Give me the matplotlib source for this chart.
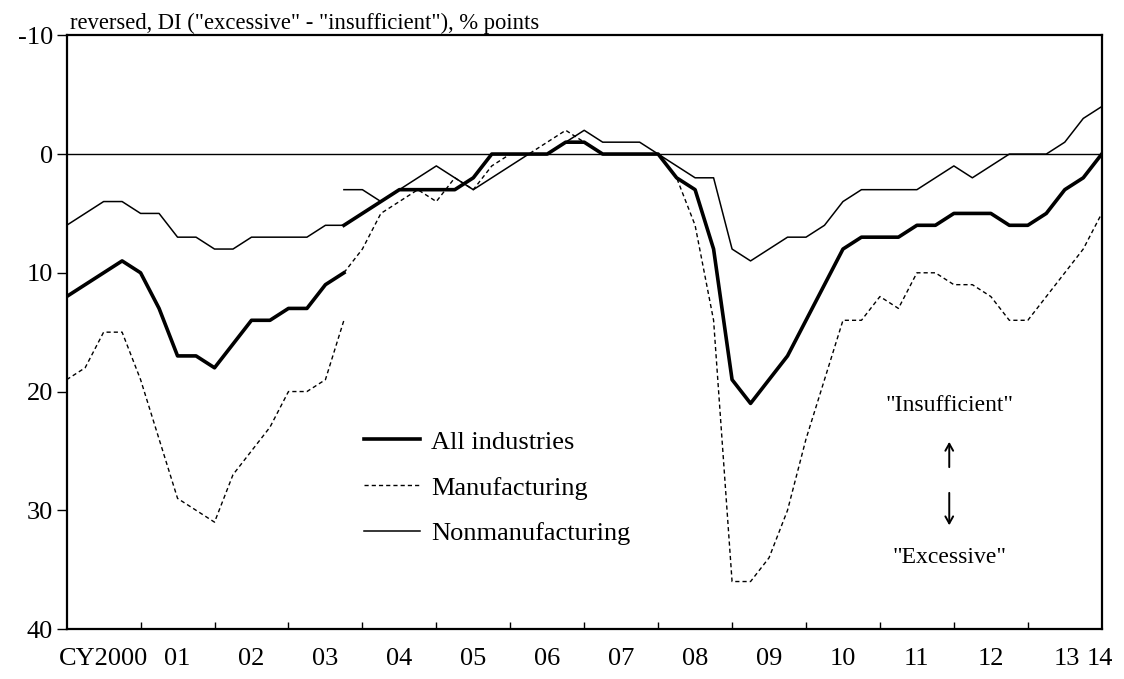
import numpy as np
import matplotlib
matplotlib.use("Agg")
import matplotlib.pyplot as plt

plt.rcParams['font.family'] = ['Liberation Serif', 'DejaVu Serif']
plt.rcParams['axes.unicode_minus'] = False

# quarterly, 2000Q1 .. 2014Q1 (index 0..56); series break at 2003Q4 (index 15)
# old basis: 2000Q1 - 2003Q4
all_old = [12, 11, 10, 9, 10, 13, 17, 17, 18, 16, 14, 14, 13, 13, 11, 10]
manu_old = [19, 18, 15, 15, 19, 24, 29, 30, 31, 27, 25, 23, 20, 20, 19, 14]
nonmanu_old = [6, 5, 4, 4, 5, 5, 7, 7, 8, 8, 7, 7, 7, 7, 6, 6]

# new basis: 2003Q4 - 2014Q1
all_new = [6, 5, 4, 3, 3, 3, 3, 2, 0, 0, 0, 0, -1, -1, 0, 0, 0, 0, 2, 3, 8,
           19, 21, 19, 17, 14, 11, 8, 7, 7, 7, 6, 6, 5, 5, 5, 6, 6, 5, 3, 2, 0]
manu_new = [10, 8, 5, 4, 3, 4, 2, 3, 1, 0, 0, -1, -2, -1, 0, 0, 0, 0, 2, 6, 14,
            36, 36, 34, 30, 24, 19, 14, 14, 12, 13, 10, 10, 11, 11, 12, 14, 14, 12, 10, 8, 5]
nonmanu_new = [3, 3, 4, 3, 2, 1, 2, 3, 2, 1, 0, 0, -1, -2, -1, -1, -1, 0, 1, 2, 2,
               8, 9, 8, 7, 7, 6, 4, 3, 3, 3, 3, 2, 1, 2, 1, 0, 0, 0, -1, -3, -4]

year_labels = ["CY2000", "01", "02", "03", "04", "05", "06", "07", "08", "09",
               "10", "11", "12", "13", "14"]

x_old = np.arange(len(all_old))
x_new = np.arange(len(all_new)) + len(all_old) - 1
n = len(all_old) + len(all_new) - 1

fig = plt.figure(figsize=(11.24, 6.79), dpi=100)
ax = fig.add_axes([0.0593, 0.0736, 0.9209, 0.8744])

thick = dict(color='black', lw=2.6)
dashed = dict(color='black', lw=1.0, linestyle=(0, (3.0, 2.2)))
thin = dict(color='black', lw=1.1)

ax.axhline(0, color='black', lw=1.0)

ax.plot(x_old, manu_old, **dashed)
ax.plot(x_new, manu_new, **dashed, label='Manufacturing')
ax.plot(x_old, nonmanu_old, **thin)
ax.plot(x_new, nonmanu_new, **thin, label='Nonmanufacturing')
ax.plot(x_old, all_old, **thick)
ax.plot(x_new, all_new, **thick, label='All industries')

ax.set_xlim(0, n - 1)
ax.set_ylim(40, -10)
ax.set_yticks([-10, 0, 10, 20, 30, 40])

# year boundaries as ticks, labels centred in each year ("13" and "14" squeezed at the end)
ax.set_xticks(np.arange(4, n - 1, 4))
ax.set_xticklabels([])
label_pos = list(np.arange(2, 54, 4)) + [54.1, 55.9]
ax.set_xticks(label_pos, minor=True)
ax.set_xticklabels(year_labels, minor=True)
ax.tick_params(axis='x', which='major', direction='in', length=5, width=1)
ax.tick_params(axis='x', which='minor', length=0, pad=14, labelsize=19)
ax.tick_params(axis='y', direction='out', length=7, width=1, pad=3, labelsize=19)
for s in ax.spines.values():
    s.set_linewidth(1.6)

ax.text(0.003, 1.003, 'reversed, DI ("excessive" - "insufficient"), % points',
        transform=ax.transAxes, fontsize=16.3, va='bottom', ha='left')

handles, labels = ax.get_legend_handles_labels()
order = [2, 0, 1]
ax.legend([handles[i] for i in order], [labels[i] for i in order],
          loc='upper left', bbox_to_anchor=(0.264, 0.375), frameon=False,
          fontsize=19, handlelength=2.15, handletextpad=0.4, labelspacing=0.85)

arrow = dict(arrowstyle='->, head_length=0.5, head_width=0.28',
             color='black', lw=1.4)
ax.text(47.75, 21.2, '"Insufficient"', fontsize=17, ha='center', va='center')
ax.annotate('', xy=(47.75, 24.0), xytext=(47.75, 26.6), arrowprops=arrow)
ax.annotate('', xy=(47.75, 31.5), xytext=(47.75, 28.3), arrowprops=arrow)
ax.text(47.75, 34.0, '"Excessive"', fontsize=17, ha='center', va='center')

fig.savefig('out.png', dpi=100)
